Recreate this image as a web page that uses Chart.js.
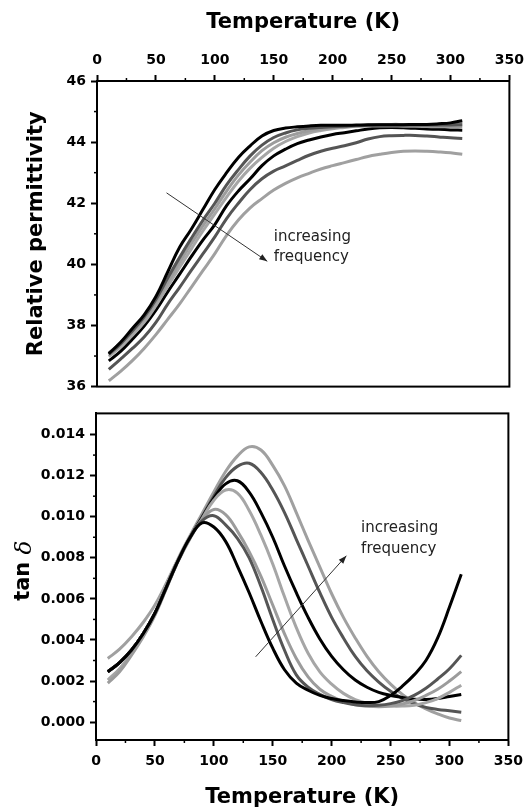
<!DOCTYPE html>
<html>
<head>
<meta charset="utf-8">
<script src="https://cdn.jsdelivr.net/npm/chart.js"></script>
<style>
  html, body { margin: 0; padding: 0; background: #fff; }
  #wrap { position: relative; width: 530px; height: 810px; }
  canvas { position: absolute; left: 0; }
  #permChart { top: 0; width: 530px; height: 400px; }
  #tanChart { top: 400px; width: 530px; height: 410px; }
</style>
</head>
<body>
<div id="wrap">
  <canvas id="permChart" width="530" height="400"></canvas>
  <canvas id="tanChart" width="530" height="410"></canvas>
</div>
<script>
// temperatures (K)
const temps = [10, 20, 30, 40, 50, 60, 70, 80, 90, 100, 110, 120, 130, 140, 150, 160,
  170, 180, 190, 200, 210, 220, 230, 240, 250, 260, 270, 280, 290, 300, 310];

// relative permittivity, lowest to highest frequency
const permF1 = [37.08, 37.45, 37.9, 38.35, 38.95, 39.75, 40.55, 41.15, 41.8, 42.45, 43.0, 43.5, 43.88, 44.2, 44.38, 44.46,
  44.5, 44.53, 44.55, 44.55, 44.55, 44.56, 44.57, 44.57, 44.57, 44.57, 44.58, 44.58, 44.6, 44.63, 44.7];
const permF2 = [37.05, 37.4, 37.82, 38.28, 38.85, 39.55, 40.22, 40.85, 41.45, 42.0, 42.6, 43.1, 43.55, 43.9, 44.15, 44.3,
  44.4, 44.45, 44.48, 44.5, 44.52, 44.54, 44.55, 44.56, 44.56, 44.56, 44.56, 44.56, 44.56, 44.56, 44.57];
const permF3 = [37.1, 37.42, 37.8, 38.22, 38.78, 39.42, 40.06, 40.68, 41.27, 41.82, 42.4, 42.92, 43.35, 43.72, 43.98, 44.16,
  44.28, 44.37, 44.43, 44.47, 44.5, 44.52, 44.53, 44.53, 44.53, 44.52, 44.52, 44.51, 44.5, 44.5, 44.5];
const permF4 = [36.98, 37.3, 37.68, 38.1, 38.65, 39.28, 39.9, 40.5, 41.1, 41.65, 42.2, 42.72, 43.15, 43.5, 43.8, 44.02,
  44.18, 44.3, 44.38, 44.44, 44.48, 44.52, 44.55, 44.57, 44.58, 44.58, 44.58, 44.58, 44.58, 44.6, 44.62];
const permF5 = [36.84, 37.15, 37.55, 37.98, 38.5, 39.1, 39.67, 40.25, 40.8, 41.3, 41.92, 42.4, 42.8, 43.23, 43.55, 43.77,
  43.95, 44.07, 44.17, 44.25, 44.31, 44.37, 44.43, 44.47, 44.48, 44.47, 44.45, 44.43, 44.42, 44.4, 44.39];
const permF6 = [36.56, 36.9, 37.25, 37.62, 38.1, 38.7, 39.24, 39.8, 40.35, 40.9, 41.5, 42.0, 42.45, 42.8, 43.05, 43.22,
  43.4, 43.57, 43.7, 43.8, 43.88, 43.98, 44.1, 44.18, 44.21, 44.22, 44.22, 44.2, 44.17, 44.14, 44.12];
const permF7 = [36.19, 36.5, 36.85, 37.25, 37.7, 38.2, 38.7, 39.25, 39.8, 40.35, 40.95, 41.45, 41.85, 42.15, 42.43, 42.65,
  42.83, 42.98, 43.12, 43.23, 43.33, 43.43, 43.53, 43.6, 43.66, 43.7, 43.71, 43.7, 43.68, 43.65, 43.6];

// tan delta, lowest to highest frequency
const tanF1 = [0.00245, 0.0029, 0.0035, 0.0043, 0.0053, 0.0066, 0.0079, 0.009, 0.0097, 0.0095, 0.0088, 0.0076, 0.0063, 0.0049, 0.0036, 0.00255,
  0.0019, 0.00155, 0.0013, 0.00115, 0.00105, 0.00098, 0.00095, 0.001, 0.0013, 0.00175, 0.0023, 0.003, 0.0041, 0.0056, 0.0072];
const tanF2 = [0.00245, 0.0029, 0.0035, 0.0043, 0.0053, 0.0066, 0.0079, 0.009, 0.0098, 0.01005, 0.0096, 0.00895, 0.008, 0.0066, 0.005, 0.0035,
  0.0023, 0.0017, 0.00135, 0.0011, 0.00095, 0.00085, 0.0008, 0.00082, 0.0009, 0.00105, 0.0013, 0.00165, 0.0021, 0.0026, 0.00325];
const tanF3 = [0.0019, 0.00245, 0.00325, 0.00415, 0.0052, 0.00655, 0.0079, 0.009, 0.00985, 0.01035, 0.0101, 0.0093, 0.0083, 0.0071, 0.0057, 0.0043,
  0.0031, 0.0022, 0.0016, 0.00125, 0.001, 0.00085, 0.00078, 0.00075, 0.00078, 0.00088, 0.00105, 0.0013, 0.0016, 0.002, 0.00246];
const tanF4 = [0.00205, 0.0026, 0.00335, 0.0042, 0.00525, 0.00655, 0.00785, 0.00895, 0.0099, 0.0108, 0.0113, 0.01115, 0.0103, 0.0091, 0.0077, 0.0061,
  0.0046, 0.00335, 0.00245, 0.00185, 0.0014, 0.0011, 0.00092, 0.00082, 0.00078, 0.00078, 0.00082, 0.00095, 0.00115, 0.00145, 0.0018];
const tanF5 = [0.00245, 0.0029, 0.0035, 0.0043, 0.0053, 0.0066, 0.0079, 0.009, 0.00995, 0.0109, 0.0116, 0.01175, 0.0112, 0.0102, 0.009, 0.0076,
  0.0063, 0.0051, 0.00405, 0.0032, 0.00255, 0.00205, 0.0017, 0.00145, 0.0013, 0.0012, 0.00112, 0.0011, 0.00115, 0.00125, 0.00135];
const tanF6 = [0.00245, 0.0029, 0.0035, 0.0043, 0.0053, 0.0066, 0.0079, 0.009, 0.01, 0.011, 0.0119, 0.01245, 0.0126, 0.01215, 0.0113, 0.0102,
  0.0089, 0.0076, 0.0063, 0.0051, 0.0041, 0.0032, 0.0025, 0.00195, 0.0015, 0.00115, 0.0009, 0.00072, 0.00062, 0.00055, 0.00048];
const tanF7 = [0.0031, 0.00355, 0.00415, 0.00485, 0.0057, 0.0068, 0.008, 0.0091, 0.01015, 0.0112, 0.0122, 0.01295, 0.0134, 0.01325, 0.0125, 0.0115,
  0.0102, 0.00885, 0.00755, 0.00625, 0.0051, 0.0041, 0.0032, 0.00245, 0.00185, 0.00135, 0.00095, 0.00065, 0.0004, 0.0002, 0.00008];

// axis ticks
const tempTicks = [0, 50, 100, 150, 200, 250, 300, 350];
const tempMinor = [25, 75, 125, 175, 225, 275, 325];
const permTicks = [36, 38, 40, 42, 44, 46];
const permMinor = [37, 39, 41, 43, 45];
const tanTicks = [0, 0.002, 0.004, 0.006, 0.008, 0.01, 0.012, 0.014];
const tanMinor = [0.001, 0.003, 0.005, 0.007, 0.009, 0.011, 0.013];

const lineColors = ['#000000', '#555555', '#9c9c9c', '#a6a6a6', '#000000', '#555555', '#a0a0a0'];

Chart.defaults.font.family = '"DejaVu Sans", sans-serif';
Chart.defaults.color = '#000';

function makeSets(list) {
  return list.map((vals, i) => ({
    label: 'f' + (i + 1),
    data: vals.map((v, j) => ({ x: temps[j], y: v })),
    borderColor: lineColors[i],
    borderWidth: 3,
    pointRadius: 0,
    fill: false,
    tension: 0.4
  }));
}

// box round the plot + short minor ticks
const framePlugin = {
  id: 'frame',
  afterDraw(chart, args, o) {
    const { ctx, chartArea: a, scales } = chart;
    ctx.save();
    ctx.strokeStyle = '#000';
    ctx.lineWidth = 2;
    ctx.strokeRect(a.left, a.top, a.right - a.left, a.bottom - a.top);
    ctx.lineWidth = 1.5;
    const edge = o.xTop ? a.top : a.bottom;
    const dir = o.xTop ? -1 : 1;
    o.xMinor.forEach(v => {
      const px = scales.x.getPixelForValue(v);
      ctx.beginPath(); ctx.moveTo(px, edge); ctx.lineTo(px, edge + dir * 3); ctx.stroke();
    });
    o.yMinor.forEach(v => {
      const py = scales.y.getPixelForValue(v);
      ctx.beginPath(); ctx.moveTo(a.left, py); ctx.lineTo(a.left - 3, py); ctx.stroke();
    });
    ctx.restore();
  }
};

// arrow + "increasing frequency"
const notePlugin = {
  id: 'note',
  afterDatasetsDraw(chart, args, o) {
    const { ctx, scales: { x, y } } = chart;
    const x0 = x.getPixelForValue(o.from[0]), y0 = y.getPixelForValue(o.from[1]);
    const x1 = x.getPixelForValue(o.to[0]), y1 = y.getPixelForValue(o.to[1]);
    const ang = Math.atan2(y1 - y0, x1 - x0);
    ctx.save();
    ctx.strokeStyle = '#333';
    ctx.fillStyle = '#222';
    ctx.lineWidth = 1;
    ctx.beginPath(); ctx.moveTo(x0, y0); ctx.lineTo(x1, y1); ctx.stroke();
    ctx.beginPath();
    ctx.moveTo(x1, y1);
    ctx.lineTo(x1 - 8 * Math.cos(ang) + 3 * Math.sin(ang), y1 - 8 * Math.sin(ang) - 3 * Math.cos(ang));
    ctx.lineTo(x1 - 8 * Math.cos(ang) - 3 * Math.sin(ang), y1 - 8 * Math.sin(ang) + 3 * Math.cos(ang));
    ctx.closePath(); ctx.fill();
    ctx.font = '15px "DejaVu Sans"';
    ctx.textBaseline = 'middle';
    ctx.textAlign = 'left';
    o.lines.forEach((t, i) => ctx.fillText(t, x.getPixelForValue(o.textX), y.getPixelForValue(o.textY[i])));
    ctx.restore();
  }
};

// y title "tan δ" with an italic delta
const tanTitlePlugin = {
  id: 'tanTitle',
  afterDraw(chart) {
    const { ctx, chartArea: a } = chart;
    ctx.save();
    ctx.translate(24, (a.top + a.bottom) / 2 - 6);
    ctx.rotate(-Math.PI / 2);
    ctx.textBaseline = 'middle';
    ctx.textAlign = 'left';
    const f1 = 'bold 21px "DejaVu Sans"', f2 = 'italic 23px "DejaVu Serif"';
    ctx.font = f1; const w1 = ctx.measureText('tan ').width;
    ctx.font = f2; const w2 = ctx.measureText('δ').width;
    ctx.fillStyle = '#000';
    ctx.font = f1; ctx.fillText('tan ', -(w1 + w2) / 2, 0);
    ctx.font = f2; ctx.fillText('δ', -(w1 + w2) / 2 + w1, 1);
    ctx.restore();
  }
};

const tickFont = { size: 14, weight: 'bold' };
const titleFont = { size: 21, weight: 'bold' };

// TOP - relative permittivity
new Chart(document.getElementById('permChart'), {
  type: 'line',
  data: { datasets: makeSets([permF1, permF2, permF3, permF4, permF5, permF6, permF7]) },
  options: {
    responsive: false,
    animation: false,
    layout: { padding: { left: 0, right: 18, top: 0, bottom: 10 } },
    plugins: {
      legend: { display: false },
      tooltip: { enabled: false },
      frame: { xTop: true, xMinor: tempMinor, yMinor: permMinor },
      note: { from: [59, 42.34], to: [144.5, 40.1], textX: 150, textY: [40.9, 40.25], lines: ['increasing', 'frequency'] }
    },
    scales: {
      x: {
        type: 'linear', position: 'top', min: 0, max: 350,
        afterBuildTicks: s => { s.ticks = tempTicks.map(v => ({ value: v })); },
        afterFit: s => { s.height = 81; },
        ticks: { font: tickFont, padding: 6, maxRotation: 0 },
        grid: { drawOnChartArea: false, tickLength: 6, tickWidth: 2, tickColor: '#000' },
        border: { color: '#000', width: 2 },
        title: { display: true, text: 'Temperature (K)', font: titleFont, padding: { top: 10, bottom: 0 } }
      },
      y: {
        min: 36, max: 46,
        afterBuildTicks: s => { s.ticks = permTicks.map(v => ({ value: v })); },
        afterFit: s => { s.width = 97; },
        ticks: { font: tickFont, padding: 5 },
        grid: { drawOnChartArea: false, tickLength: 6, tickWidth: 2, tickColor: '#000' },
        border: { color: '#000', width: 2 },
        title: { display: true, text: 'Relative permittivity', font: titleFont, padding: { top: 24, bottom: 0 } }
      }
    }
  },
  plugins: [framePlugin, notePlugin]
});

// BOTTOM - tan delta
new Chart(document.getElementById('tanChart'), {
  type: 'line',
  data: { datasets: makeSets([tanF1, tanF2, tanF3, tanF4, tanF5, tanF6, tanF7]) },
  options: {
    responsive: false,
    animation: false,
    layout: { padding: { left: 0, right: 19, top: 6, bottom: 0 } },
    plugins: {
      legend: { display: false },
      tooltip: { enabled: false },
      frame: { xTop: false, xMinor: tempMinor, yMinor: tanMinor },
      note: { from: [135.5, 0.00318], to: [212.5, 0.0081], textX: 225, textY: [0.00945, 0.0084], lines: ['increasing', 'frequency'] }
    },
    scales: {
      x: {
        type: 'linear', position: 'bottom', min: 0, max: 350,
        afterBuildTicks: s => { s.ticks = tempTicks.map(v => ({ value: v })); },
        afterFit: s => { s.height = 70; },
        ticks: { font: tickFont, padding: 7, maxRotation: 0 },
        grid: { drawOnChartArea: false, tickLength: 6, tickWidth: 2, tickColor: '#000' },
        border: { color: '#000', width: 2 },
        title: { display: true, text: 'Temperature (K)', font: titleFont, padding: { top: 0, bottom: 0 } }
      },
      y: {
        min: -0.00087, max: 0.01503,
        afterBuildTicks: s => { s.ticks = tanTicks.map(v => ({ value: v })); },
        afterFit: s => { s.width = 96; },
        ticks: { font: tickFont, padding: 5, callback: v => v.toFixed(3) },
        grid: { drawOnChartArea: false, tickLength: 6, tickWidth: 2, tickColor: '#000' },
        border: { color: '#000', width: 2 }
      }
    }
  },
  plugins: [framePlugin, notePlugin, tanTitlePlugin]
});
</script>
</body>
</html>
